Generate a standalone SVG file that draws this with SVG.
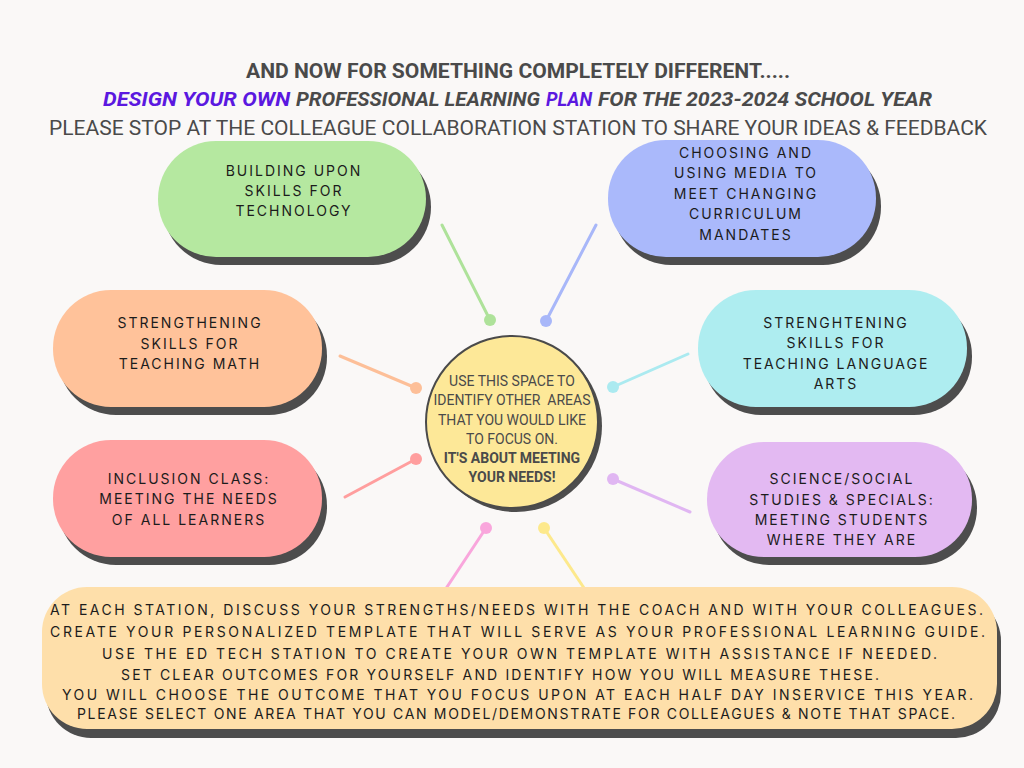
<svg xmlns="http://www.w3.org/2000/svg" width="1024" height="768" viewBox="0 0 1024 768">
<defs>
<style>
.title{font-family:Roboto,"Liberation Sans",sans-serif;fill:#4a4a4a;text-anchor:middle}
.pt{font-family:Inter,"Liberation Sans",sans-serif;font-size:14px;letter-spacing:2px;fill:#1c1c1c;text-anchor:middle}
.ct{font-family:Roboto,"Liberation Sans",sans-serif;font-size:14px;fill:#4a4a4a;text-anchor:middle;white-space:pre}
.bt{font-family:Inter,"Liberation Sans",sans-serif;font-size:14px;fill:#1c1c1c;text-anchor:start}
.sh{fill:#4d4d4d}
.ln{stroke-width:3;stroke-linecap:round;fill:none}
</style>
</defs>
<rect width="1024" height="768" fill="#faf8f7"/>

<g id="title">
<text class="title" x="518" y="78" font-size="20" font-weight="bold" textLength="544" lengthAdjust="spacingAndGlyphs">AND NOW FOR SOMETHING COMPLETELY DIFFERENT.....</text>
<text x="103" y="106" font-family="Roboto,'Liberation Sans',sans-serif" font-size="20" font-weight="bold" font-style="italic" fill="#5b18e0" textLength="187" lengthAdjust="spacingAndGlyphs">DESIGN YOUR OWN</text>
<text x="296" y="106" font-family="Roboto,'Liberation Sans',sans-serif" font-size="20" font-weight="bold" font-style="italic" fill="#4a4a4a" textLength="244" lengthAdjust="spacingAndGlyphs">PROFESSIONAL LEARNING</text>
<text x="546" y="106" font-family="Roboto,'Liberation Sans',sans-serif" font-size="20" font-weight="bold" font-style="italic" fill="#5b18e0" textLength="46" lengthAdjust="spacingAndGlyphs">PLAN</text>
<text x="598" y="106" font-family="Roboto,'Liberation Sans',sans-serif" font-size="20" font-weight="bold" font-style="italic" fill="#4a4a4a" textLength="334" lengthAdjust="spacingAndGlyphs">FOR THE 2023-2024 SCHOOL YEAR</text>
<text class="title" x="518" y="135" font-size="21" fill="#555555" textLength="938" lengthAdjust="spacingAndGlyphs">PLEASE STOP AT THE COLLEAGUE COLLABORATION STATION TO SHARE YOUR IDEAS &amp; FEEDBACK</text>
</g>

<g id="connectors">
<line class="ln" x1="442" y1="225" x2="490" y2="320" stroke="#aee29a"/>
<circle cx="490" cy="320" r="6" fill="#aee29a"/>
<line class="ln" x1="596" y1="225" x2="546" y2="321" stroke="#a8b7f9"/>
<circle cx="546" cy="321" r="6" fill="#a8b7f9"/>
<line class="ln" x1="340" y1="356" x2="416" y2="388" stroke="#fdbf98"/>
<circle cx="416" cy="388" r="6" fill="#fdbf98"/>
<line class="ln" x1="688" y1="354" x2="613" y2="387" stroke="#abeaf0"/>
<circle cx="613" cy="387" r="6" fill="#abeaf0"/>
<line class="ln" x1="345" y1="497" x2="416" y2="459" stroke="#ff9e9e"/>
<circle cx="416" cy="459" r="6" fill="#ff9e9e"/>
<line class="ln" x1="690" y1="512" x2="613" y2="479" stroke="#e0b6f2"/>
<circle cx="613" cy="479" r="6" fill="#e0b6f2"/>
<line class="ln" x1="445" y1="590" x2="486" y2="528" stroke="#f9a6dc"/>
<circle cx="486" cy="528" r="6" fill="#f9a6dc"/>
<line class="ln" x1="592" y1="600" x2="544" y2="528" stroke="#fde98c"/>
<circle cx="544" cy="528" r="6" fill="#fde98c"/>
</g>

<g id="node-center">
<circle class="sh" cx="516" cy="426" r="86"/>
<circle cx="512" cy="422" r="86" fill="#fde898" stroke="#4a4a4a" stroke-width="2"/>
<text class="ct" x="512" y="386">USE THIS SPACE TO</text>
<text class="ct" x="512" y="405">IDENTIFY OTHER  AREAS</text>
<text class="ct" x="512" y="425">THAT YOU WOULD LIKE</text>
<text class="ct" x="512" y="444">TO FOCUS ON.</text>
<text class="ct" x="512" y="463" font-weight="bold">IT'S ABOUT MEETING</text>
<text class="ct" x="512" y="482" font-weight="bold">YOUR NEEDS!</text>
</g>

<g id="node-technology">
<rect class="sh" x="163" y="149" width="268" height="116" rx="58"/>
<rect x="158" y="141" width="268" height="116" rx="58" fill="#b5e8a0"/>
<text class="pt" x="294" y="176">BUILDING UPON</text>
<text class="pt" x="294" y="196">SKILLS FOR</text>
<text class="pt" x="294" y="216">TECHNOLOGY</text>
</g>

<g id="node-media">
<rect class="sh" x="613" y="148" width="268" height="117" rx="58"/>
<rect x="608" y="140" width="268" height="117" rx="58" fill="#aab9fb"/>
<text class="pt" x="746" y="158">CHOOSING AND</text>
<text class="pt" x="746" y="178">USING MEDIA TO</text>
<text class="pt" x="746" y="199">MEET CHANGING</text>
<text class="pt" x="746" y="219">CURRICULUM</text>
<text class="pt" x="746" y="240">MANDATES</text>
</g>

<g id="node-math">
<rect class="sh" x="58" y="298" width="269" height="117" rx="58"/>
<rect x="53" y="290" width="269" height="117" rx="58" fill="#ffc29a"/>
<text class="pt" x="190" y="328">STRENGTHENING</text>
<text class="pt" x="190" y="349">SKILLS FOR</text>
<text class="pt" x="190" y="369">TEACHING MATH</text>
</g>

<g id="node-inclusion">
<rect class="sh" x="58" y="448" width="269" height="117" rx="58"/>
<rect x="53" y="440" width="269" height="117" rx="58" fill="#ffa0a0"/>
<text class="pt" x="189" y="484">INCLUSION CLASS:</text>
<text class="pt" x="189" y="504">MEETING THE NEEDS</text>
<text class="pt" x="189" y="525">OF ALL LEARNERS</text>
</g>

<g id="node-language">
<rect class="sh" x="703" y="298" width="269" height="117" rx="58"/>
<rect x="698" y="290" width="269" height="117" rx="58" fill="#aeedf0"/>
<text class="pt" x="836" y="328">STRENGHTENING</text>
<text class="pt" x="836" y="348">SKILLS FOR</text>
<text class="pt" x="836" y="369">TEACHING LANGUAGE</text>
<text class="pt" x="836" y="389">ARTS</text>
</g>

<g id="node-science">
<rect class="sh" x="712" y="450" width="265" height="115" rx="57"/>
<rect x="707" y="442" width="265" height="115" rx="57" fill="#e3b9f2"/>
<text class="pt" x="842" y="484">SCIENCE/SOCIAL</text>
<text class="pt" x="842" y="505">STUDIES &amp; SPECIALS:</text>
<text class="pt" x="842" y="525">MEETING STUDENTS</text>
<text class="pt" x="842" y="545">WHERE THEY ARE</text>
</g>

<g id="node-instructions">
<rect class="sh" x="46" y="596" width="955" height="142" rx="45"/>
<rect x="42" y="587" width="955" height="142" rx="45" fill="#fedfaa"/>
<text class="bt" x="50" y="615" textLength="933" lengthAdjust="spacing">AT EACH STATION, DISCUSS YOUR STRENGTHS/NEEDS WITH THE COACH AND WITH YOUR COLLEAGUES.</text>
<text class="bt" x="50" y="637" textLength="935" lengthAdjust="spacing">CREATE YOUR PERSONALIZED TEMPLATE THAT WILL SERVE AS YOUR PROFESSIONAL LEARNING GUIDE.</text>
<text class="bt" x="102" y="659" textLength="835" lengthAdjust="spacing">USE THE ED TECH STATION TO CREATE YOUR OWN TEMPLATE WITH ASSISTANCE IF NEEDED.</text>
<text class="bt" x="121" y="680" textLength="758" lengthAdjust="spacing">SET CLEAR OUTCOMES FOR YOURSELF AND IDENTIFY HOW YOU WILL MEASURE THESE.</text>
<text class="bt" x="62" y="700" textLength="911" lengthAdjust="spacing">YOU WILL CHOOSE THE OUTCOME THAT YOU FOCUS UPON AT EACH HALF DAY INSERVICE THIS YEAR.</text>
<text class="bt" x="77" y="719" font-size="12.5" textLength="878" lengthAdjust="spacing">PLEASE SELECT ONE AREA THAT YOU CAN MODEL/DEMONSTRATE FOR COLLEAGUES &amp; NOTE THAT SPACE.</text>
</g>
</svg>
